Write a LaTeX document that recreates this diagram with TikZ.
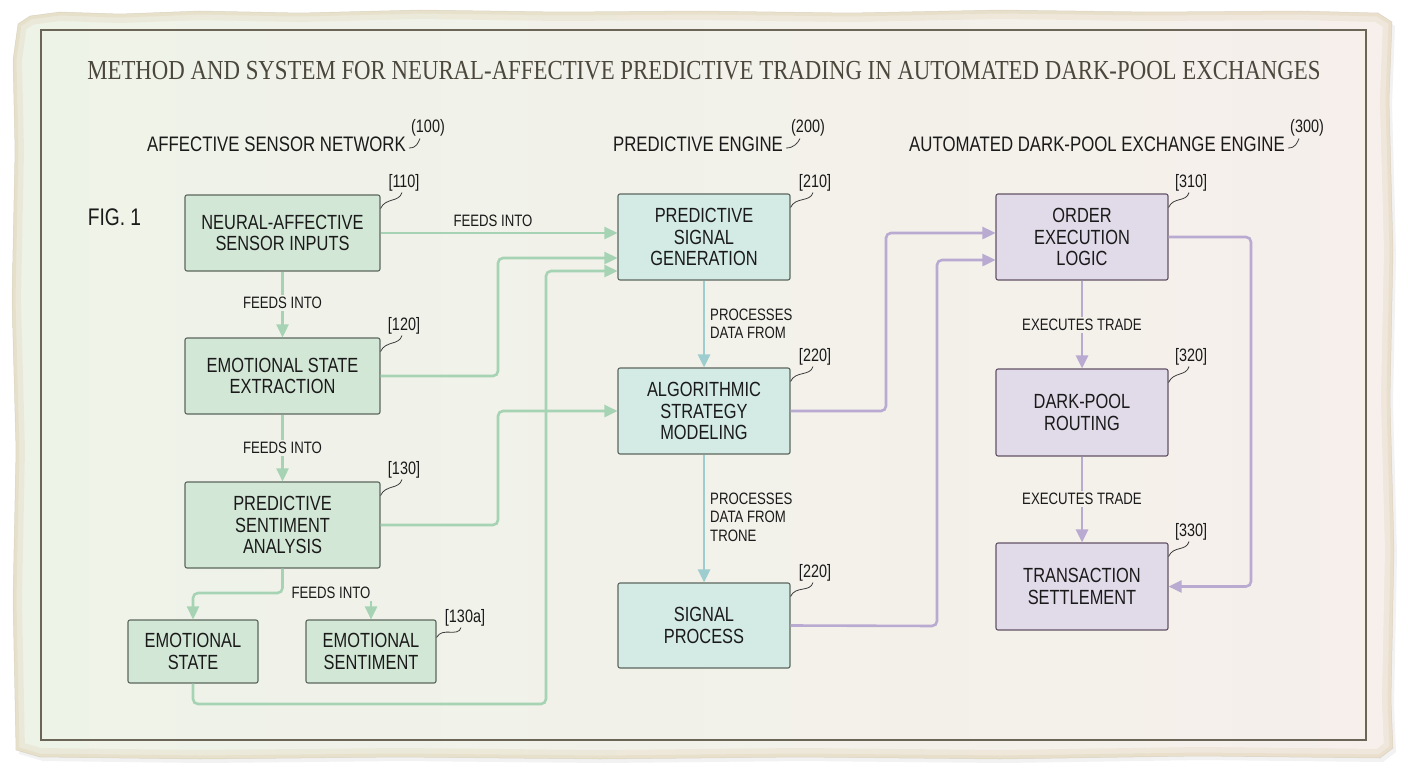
\documentclass[tikz,border=0pt]{standalone}
\usepackage{fontspec}
\setmainfont[FakeStretch=0.8]{Liberation Sans}
\newfontfamily\ttlfont[FakeStretch=0.83]{Liberation Serif}
\usetikzlibrary{arrows.meta,calc}
\definecolor{paperedge}{HTML}{E4D9BE}
\definecolor{paperL}{HTML}{EEF3E8}
\definecolor{paperR}{HTML}{F6EFEB}
\definecolor{framec}{HTML}{6B6558}
\definecolor{gfill}{HTML}{D3E7D6}
\definecolor{gline}{HTML}{A7D3B5}
\definecolor{tfill}{HTML}{D3EAE5}
\definecolor{tline}{HTML}{9DCDCF}
\definecolor{pfill}{HTML}{E1DAE9}
\definecolor{pline}{HTML}{B9AAD2}
\definecolor{boxdraw}{HTML}{5C665E}
\definecolor{ink}{HTML}{1A1A1A}
\definecolor{titleink}{HTML}{4B473C}
\newcommand\nodefnt{\fontsize{20.5}{21.5}\selectfont}
\newcommand\lblfnt{\fontsize{16.5}{18.5}\selectfont}
\newcommand\reffnt{\fontsize{18}{20}\selectfont}
\newcommand\hdrfnt{\fontsize{21}{23}\selectfont}
\newcommand\paperpath{(18,24) -- (30,16) -- (60,12) -- (120,14) -- (200,11) -- (300,13) -- (420,10) -- (560,12) -- (700,11) -- (850,13) -- (1000,10) -- (1150,12) -- (1300,11) -- (1378,13) -- (1392,22) -- (1389,100) -- (1393,250) -- (1390,400) -- (1394,550) -- (1391,700) -- (1393,748) -- (1380,758) -- (1200,756) -- (1000,759) -- (800,757) -- (600,759) -- (400,757) -- (200,759) -- (40,757) -- (16,750) -- (13,600) -- (16,450) -- (12,300) -- (15,150) -- (13,60) -- cycle}
\tikzset{
  box/.style={draw=boxdraw, line width=1.1pt, rounded corners=2pt, align=center, inner sep=0pt, font=\nodefnt, text=ink},
  gbox/.style={box, fill=gfill},
  tbox/.style={box, fill=tfill},
  pbox/.style={box, fill=pfill, draw=boxdraw!80!violet},
  lbl/.style={font=\lblfnt, text=ink, inner sep=2pt, align=left},
  ref/.style={font=\reffnt, text=ink, inner sep=1pt},
  hdr/.style={font=\hdrfnt, text=ink, inner sep=1pt},
  leader/.style={draw=ink!85, line width=0.8pt},
  tip/.style={-{Triangle[length=13pt,width=12pt]}},
  gconn/.style={draw=gline, line width=2.6pt, rounded corners=5pt},
  tconn/.style={draw=tline, line width=2.6pt, rounded corners=5pt},
  pconn/.style={draw=pline, line width=2.6pt, rounded corners=5pt},
}
\begin{document}
\begin{tikzpicture}[x=1pt,y=-1pt]
\useasboundingbox (0,0) rectangle (1408,768);
\fill[white] (0,0) rectangle (1408,768);
% paper
\fill[black!12, opacity=.4] [shift={(3,4)}] \paperpath;
\begin{scope}
\clip \paperpath;
\shade[left color=paperL, right color=paperR] (0,0) rectangle (1408,768);
\draw[paperedge, line width=18pt, opacity=.35] \paperpath;
\draw[paperedge, line width=7pt, opacity=.5] \paperpath;
\end{scope}
\draw[paperedge!80!black, line width=.5pt, opacity=.3] \paperpath;
\draw[framec, line width=1.5pt] (41,30) rectangle (1366,740);

% title
\node[font=\ttlfont\fontsize{27.5}{30}\selectfont, text=titleink, inner sep=0pt] (title) at (704,71) {METHOD AND SYSTEM FOR NEURAL-AFFECTIVE PREDICTIVE TRADING IN AUTOMATED DARK-POOL EXCHANGES};

% headers
\node[hdr] (h1) at (276.5,144) {AFFECTIVE SENSOR NETWORK};
\node[hdr] (h2) at (698,144) {PREDICTIVE ENGINE};
\node[hdr] (h3) at (1097,144) {AUTOMATED DARK-POOL EXCHANGE ENGINE};
\node[ref] (r100) at (428,128) {(100)};
\node[ref] (r200) at (808,128) {(200)};
\node[ref] (r300) at (1307,128) {(300)};
\draw[leader] ($(h1.east)+(2,4)$) .. controls +(8,0) and +(-2,4) .. ($(r100.south west)+(10,1)$);
\draw[leader] ($(h2.east)+(2,4)$) .. controls +(8,0) and +(-2,4) .. ($(r200.south west)+(10,1)$);
\draw[leader] ($(h3.east)+(2,4)$) .. controls +(8,0) and +(-2,4) .. ($(r300.south west)+(10,1)$);
\node[font=\fontsize{24}{26}\selectfont, text=ink] (fig) at (114.5,217) {FIG. 1};

% boxes
\node[gbox, minimum width=195pt, minimum height=76pt] (n110) at (282.5,233) {NEURAL-AFFECTIVE\\SENSOR INPUTS};
\node[gbox, minimum width=195pt, minimum height=76pt] (n120) at (282.5,376) {EMOTIONAL STATE\\EXTRACTION};
\node[gbox, minimum width=195pt, minimum height=86pt] (n130) at (282.5,525) {PREDICTIVE\\SENTIMENT\\ANALYSIS};
\node[gbox, minimum width=130pt, minimum height=63pt] (nstate) at (193,651.5) {EMOTIONAL\\STATE};
\node[gbox, minimum width=130pt, minimum height=63pt] (nsent) at (371,651.5) {EMOTIONAL\\SENTIMENT};
\node[tbox, minimum width=172pt, minimum height=86pt] (n210) at (704,237) {PREDICTIVE\\SIGNAL\\GENERATION};
\node[tbox, minimum width=172pt, minimum height=86pt] (n220) at (704,411) {ALGORITHMIC\\STRATEGY\\MODELING};
\node[tbox, minimum width=172pt, minimum height=85pt] (nsig) at (704,625.5) {SIGNAL\\PROCESS};
\node[pbox, minimum width=172pt, minimum height=86pt] (n310) at (1082,237) {ORDER\\EXECUTION\\LOGIC};
\node[pbox, minimum width=172pt, minimum height=87pt] (n320) at (1082,412.5) {DARK-POOL\\ROUTING};
\node[pbox, minimum width=172pt, minimum height=87pt] (n330) at (1082,586.5) {TRANSACTION\\SETTLEMENT};

% reference labels
\node[ref] (r110) at (404,183) {[110]};
\node[ref] (r120) at (404,326) {[120]};
\node[ref] (r130) at (404,470) {[130]};
\node[ref] (r130a) at (465,618) {[130a]};
\node[ref] (r210) at (815,183) {[210]};
\node[ref] (r220) at (815,357) {[220]};
\node[ref] (r220b) at (815,573) {[220]};
\node[ref] (r310) at (1191,183) {[310]};
\node[ref] (r320) at (1191,357) {[320]};
\node[ref] (r330) at (1191,532) {[330]};
\foreach \b/\r in {n110/r110,n120/r120,n130/r130,n210/r210,n220/r220,nsig/r220b,n310/r310,n320/r320,n330/r330}{
  \draw[leader] ($(\b.north east)+(0,14)$) .. controls +(5,-11) and +(-3,10) .. ($(\r.south)+(-2,0)$);
}
\draw[leader] ($(nsent.north east)+(0,18)$) .. controls +(6,-11) and +(-3,10) .. ($(r130a.south)+(-4,0)$);

% green connectors
\node[lbl] (f1) at (493,221) {FEEDS INTO};
\draw[gconn, tip] (n110.east) -- (n110.east -| n210.west);
\node[lbl] (f2) at (282.5,303) {FEEDS INTO};
\draw[gconn] (n110.south) -- (f2.north);
\draw[gconn, tip] (f2.south) -- (n120.north);
\node[lbl] (f3) at (282.5,448) {FEEDS INTO};
\draw[gconn] (n120.south) -- (f3.north);
\draw[gconn, tip] (f3.south) -- (n130.north);
\draw[gconn, tip] (n120.east) -- (498,376) -- (498,258) -- ($(n210.west)+(0,21)$);
\draw[gconn, tip] (n130.east) -- (498,525) -- (498,411) -- (n220.west);
\draw[gconn, tip] (n130.south) -- (282.5,593) -- (193,593) -- (nstate.north);
\node[lbl] (f4) at (331,593) {FEEDS INTO};
\draw[gconn, tip] (f4.south -| nsent.north) -- (nsent.north);
\draw[gconn, tip] (nstate.south) -- (193,704) -- (546,704) -- (546,271) -- ($(n210.west)+(0,34)$);

% teal connectors
\draw[tconn, tip] (n210.south) -- (n220.north);
\node[lbl, anchor=west] (p1) at (708,324) {PROCESSES\\DATA FROM};
\draw[tconn, tip] (n220.south) -- (nsig.north);
\node[lbl, anchor=west] (p2) at (708,517) {PROCESSES\\DATA FROM\\TRONE};

% purple connectors
\draw[pconn, tip] (n220.east) -- (886,411) -- (886,233) -- ($(n310.west)+(0,-4)$);
\draw[pconn, tip] (nsig.east) -- (937,626) -- (937,260) -- ($(n310.west)+(0,23)$);
\node[lbl] (e1) at (1082,325) {EXECUTES TRADE};
\draw[pconn] (n310.south) -- (e1.north);
\draw[pconn, tip] (e1.south) -- (n320.north);
\node[lbl] (e2) at (1082,499) {EXECUTES TRADE};
\draw[pconn] (n320.south) -- (e2.north);
\draw[pconn, tip] (e2.south) -- (n330.north);
\draw[pconn, tip] (n310.east) -- (1251,237) -- (1251,586.5) -- (n330.east);
\end{tikzpicture}
\end{document}
